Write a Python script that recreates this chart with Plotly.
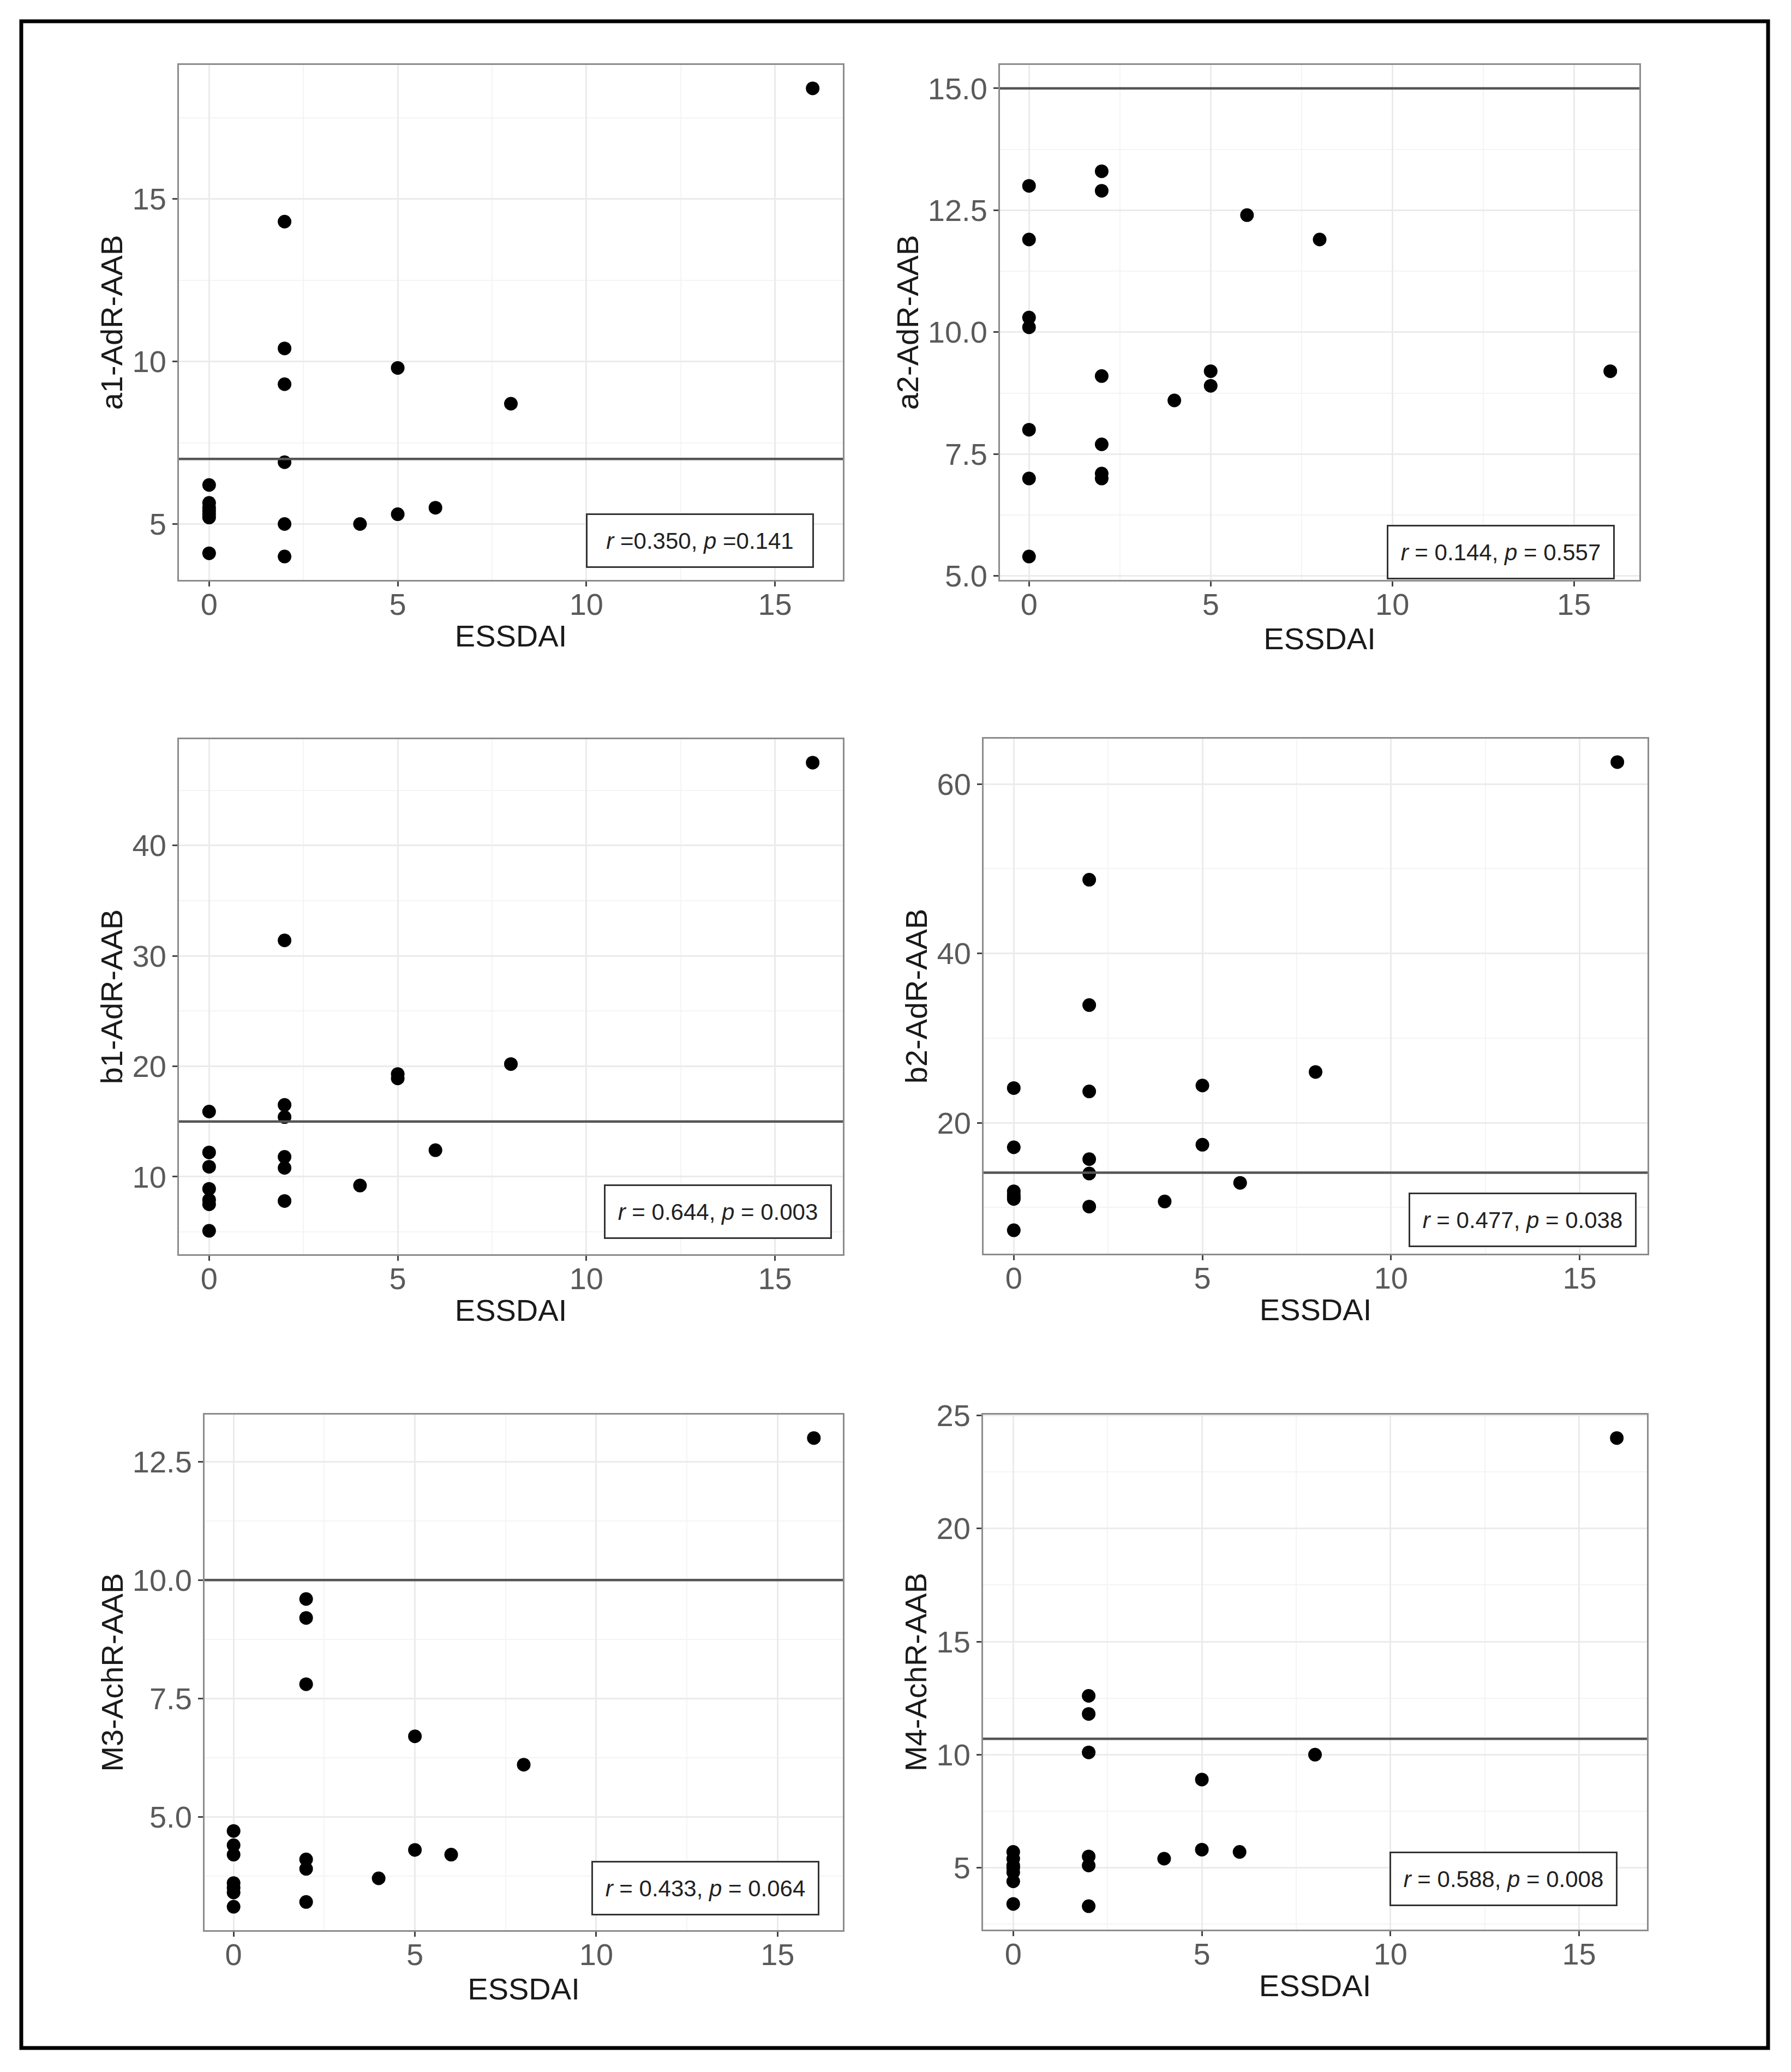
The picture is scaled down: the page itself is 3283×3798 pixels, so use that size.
import plotly.graph_objects as go

# ---------------- data ----------------
essdai = [0, 0, 0, 0, 0, 0, 0, 2, 2, 2, 2, 2, 2, 4, 5, 5, 6, 8, 16]

a1_adr = [6.2, 5.65, 5.5, 5.4, 5.3, 5.2, 4.1, 14.3, 10.4, 9.3, 6.9, 5.0, 4.0, 5.0, 9.8, 5.3, 5.5, 8.7, 18.4]
a2_adr = [13.0, 11.9, 10.3, 10.1, 8.0, 7.0, 5.4, 13.3, 12.9, 9.1, 7.7, 7.1, 7.0, 8.6, 9.2, 8.9, 12.4, 11.9, 9.2]
b1_adr = [15.9, 12.2, 10.9, 8.9, 7.9, 7.5, 5.1, 31.4, 16.5, 15.4, 11.8, 10.8, 7.8, 9.2, 19.3, 18.9, 12.4, 20.2, 47.5]
b2_adr = [24.1, 17.1, 11.9, 11.5, 11.2, 11.0, 7.3, 48.7, 33.9, 23.7, 15.7, 14.0, 10.1, 10.7, 24.4, 17.4, 12.9, 26.0, 62.6]
m3_achr = [4.7, 4.4, 4.2, 3.6, 3.5, 3.4, 3.1, 9.6, 9.2, 7.8, 4.1, 3.9, 3.2, 3.7, 6.7, 4.3, 4.2, 6.1, 13.0]
m4_achr = [5.7, 5.4, 5.1, 5.0, 4.8, 4.4, 3.4, 12.6, 11.8, 10.1, 5.5, 5.1, 3.3, 5.4, 8.9, 5.8, 5.7, 10.0, 24.0]

y_titles = ["a1-AdR-AAB", "a2-AdR-AAB", "b1-AdR-AAB", "b2-AdR-AAB", "M3-AchR-AAB", "M4-AchR-AAB"]
thresholds = [7.0, 15.0, 15.0, 14.1, 10.0, 10.7]
r_values = ["0.350", "0.144", "0.644", "0.477", "0.433", "0.588"]
p_values = ["0.141", "0.557", "0.003", "0.038", "0.064", "0.008"]
y_major = [5, 2.5, 10, 20, 2.5, 5]
x_ticks = [0, 5, 10, 15]
series = [a1_adr, a2_adr, b1_adr, b2_adr, m3_achr, m4_achr]

# ---------------- layout geometry ----------------
W, H = 3283, 3798
panels_px = [
    (328, 1545, 119, 1063),
    (1833, 3005, 119, 1063),
    (328, 1545, 1355, 2299),
    (1803, 3020, 1354, 2298),
    (375, 1545, 2593, 3538),
    (1802, 3019, 2593, 3537),
]
box_px = [(1283, 991), (2751, 1012), (1316, 2221), (2791, 2236), (1293, 3461), (2756, 3444)]

FONT = "Liberation Sans, Arial, Helvetica, sans-serif"
fig = go.Figure()
layout = dict(
    width=W, height=H,
    margin=dict(l=0, r=0, t=0, b=0, autoexpand=False),
    paper_bgcolor="white", plot_bgcolor="white",
    showlegend=False,
    font=dict(family=FONT, color="#222"),
    shapes=[], annotations=[],
)

xmin, xmax = min(essdai), max(essdai)
xpad = 0.05 * (xmax - xmin)

TICKFONT = dict(size=56, color="#5a5a5a")
TITLEFONT = dict(size=56, color="#1a1a1a")

for i, ys in enumerate(series):
    n = i + 1
    xa = "x" if n == 1 else f"x{n}"
    ya = "y" if n == 1 else f"y{n}"
    xkey = "xaxis" if n == 1 else f"xaxis{n}"
    ykey = "yaxis" if n == 1 else f"yaxis{n}"
    l, r, t, b = panels_px[i]

    fig.add_trace(go.Scatter(
        x=essdai, y=ys, mode="markers", xaxis=xa, yaxis=ya,
        marker=dict(color="black", size=25, line=dict(width=0)),
        hoverinfo="x+y",
    ))

    lo = min(min(ys), thresholds[i])
    hi = max(max(ys), thresholds[i])
    pad = 0.05 * (hi - lo)
    fmt = ".1f" if y_major[i] == 2.5 else "d"

    layout[xkey] = dict(
        domain=[l / W, r / W], anchor=ya,
        range=[xmin - xpad, xmax + xpad],
        tickmode="array", tickvals=x_ticks,
        ticks="outside", ticklen=9, tickwidth=3, tickcolor="#444",
        tickfont=TICKFONT, ticklabelstandoff=-15,
        showgrid=True, gridcolor="#ebebeb", gridwidth=3,
        minor=dict(dtick=2.5, tick0=0, showgrid=True, gridcolor="#f4f4f4", gridwidth=2, ticks=""),
        showline=True, linecolor="#8c8c8c", linewidth=3, mirror=True,
        zeroline=False, automargin=False,
        title=dict(text="ESSDAI", font=TITLEFONT, standoff=8),
    )
    layout[ykey] = dict(
        domain=[1 - b / H, 1 - t / H], anchor=xa,
        range=[lo - pad, hi + pad],
        dtick=y_major[i], tick0=0, tickformat=fmt,
        ticks="outside", ticklen=9, tickwidth=3, tickcolor="#444",
        tickfont=TICKFONT,
        showgrid=True, gridcolor="#ebebeb", gridwidth=3,
        minor=dict(dtick=y_major[i] / 2, tick0=0, showgrid=True, gridcolor="#f4f4f4", gridwidth=2, ticks=""),
        showline=True, linecolor="#8c8c8c", linewidth=3, mirror=True,
        zeroline=False, automargin=False,
        title=dict(text=y_titles[i], font=TITLEFONT, standoff=0),
    )

    layout["shapes"].append(dict(
        type="line", xref=f"{xa} domain", yref=ya, x0=0, x1=1,
        y0=thresholds[i], y1=thresholds[i],
        line=dict(color="#555555", width=4.5), layer="above",
    ))

    if i == 0:
        txt = f"<i>r</i> ={r_values[i]}, <i>p</i> ={p_values[i]}"
    else:
        txt = f"<i>r</i> = {r_values[i]}, <i>p</i> = {p_values[i]}"
    cx, cy = box_px[i]
    layout["annotations"].append(dict(
        text=txt, xref="paper", yref="paper",
        x=cx / W, y=1 - cy / H, xanchor="center", yanchor="middle",
        showarrow=False, font=dict(size=42, color="#222", family=FONT),
        bgcolor="white", bordercolor="#333", borderwidth=3, borderpad=4,
        width=404, height=86, align="center",
    ))

# outer black frame
layout["shapes"].append(dict(
    type="rect", xref="paper", yref="paper",
    x0=39 / W, x1=3241 / W, y0=1 - 3754 / H, y1=1 - 39 / H,
    line=dict(color="black", width=7), fillcolor="rgba(0,0,0,0)",
))

fig.update_layout(**layout)
fig.write_html("out.html", config={"displayModeBar": False},
               post_script="document.body.style.margin='0px';document.body.style.overflow='hidden';")
